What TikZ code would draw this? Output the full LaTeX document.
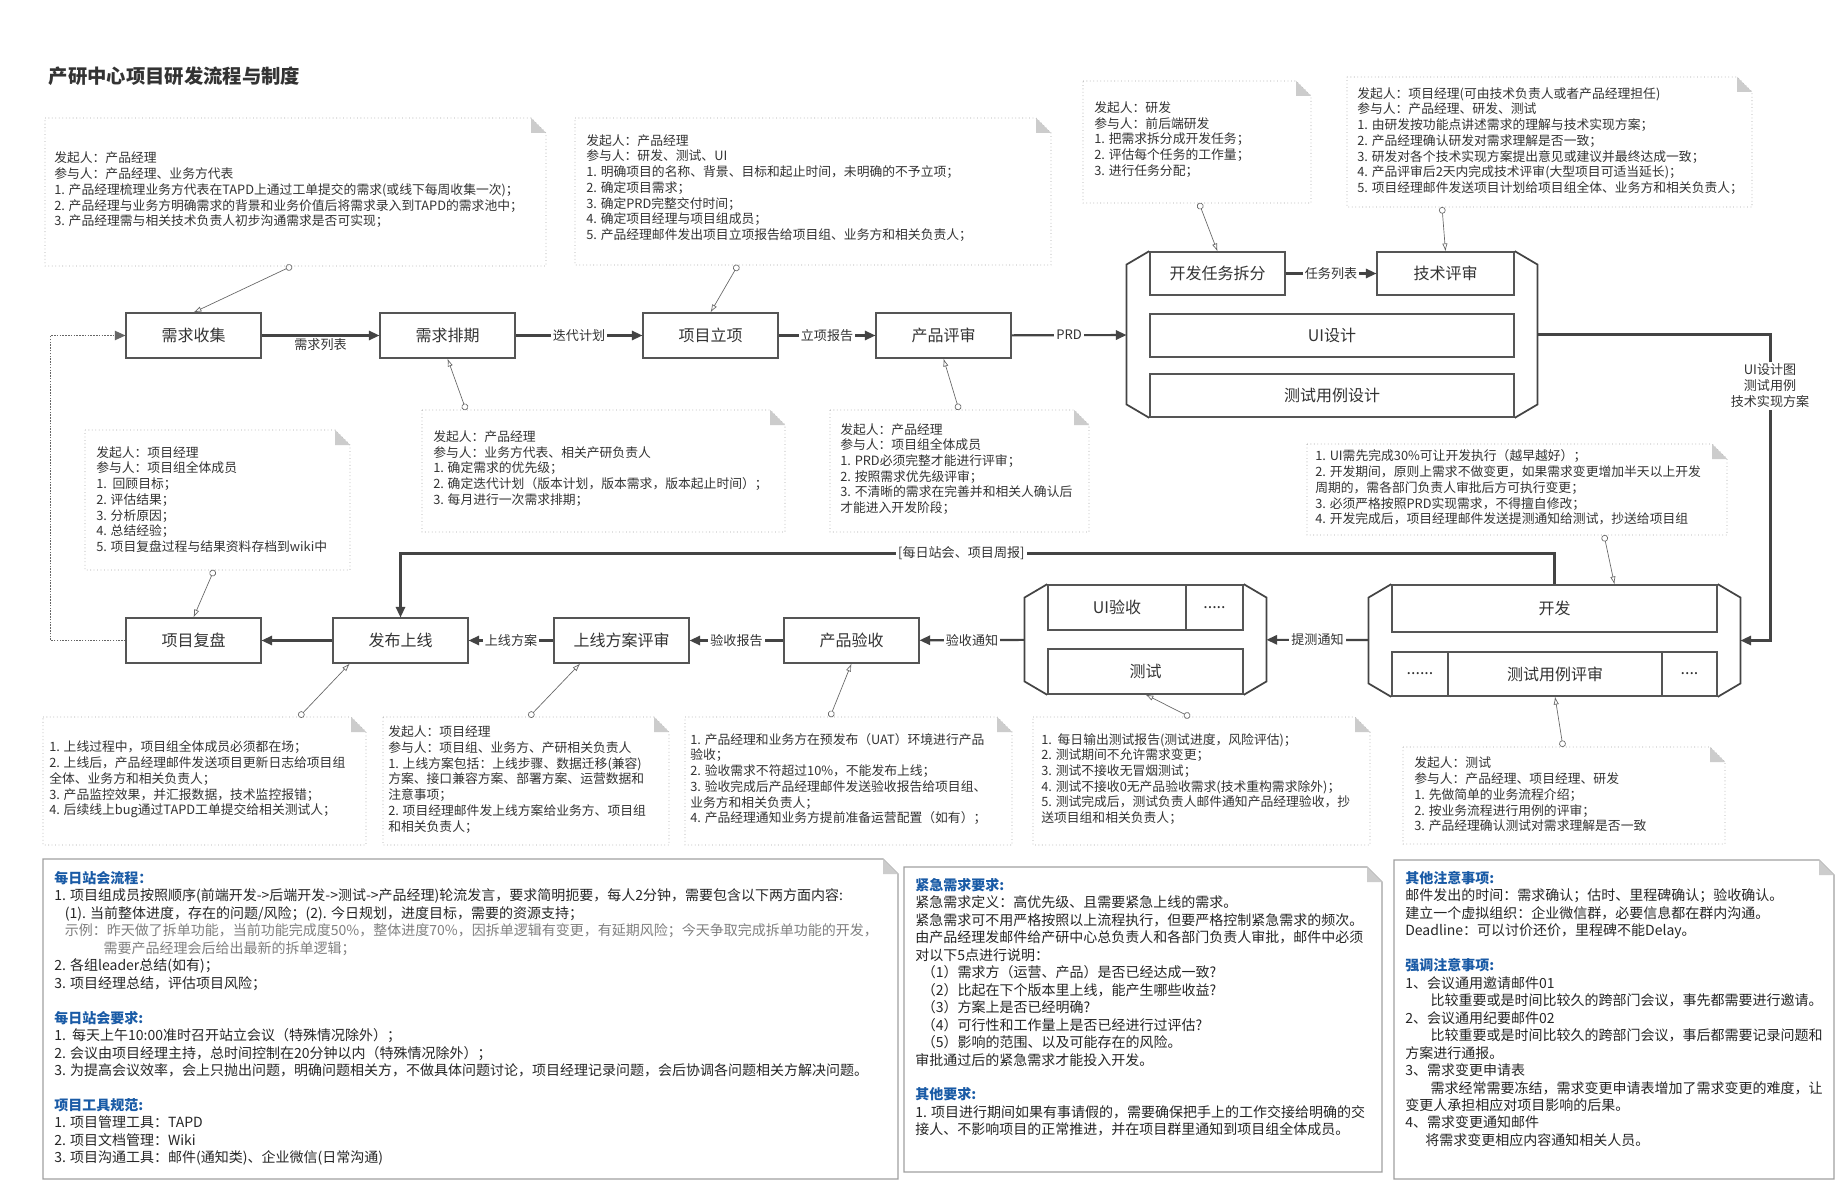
\documentclass[tikz,border=0pt]{standalone}
\usepackage{fontspec}
\setmainfont{Noto Sans CJK SC}
\usepackage{xcolor}
\usetikzlibrary{arrows.meta, positioning, fit, shadows}

\definecolor{ink}{HTML}{333333}
\definecolor{linec}{HTML}{444444}
\definecolor{boxbd}{HTML}{555555}
\definecolor{notec}{HTML}{A8A8A8}
\definecolor{memoc}{HTML}{A0A0A0}
\definecolor{foldc}{HTML}{CCCCCC}
\definecolor{memoblue}{HTML}{1A5BA6}

% outline with a folded corner: style, x1, y1, x2, y2
\newcommand{\foldbox}[5]{%
  \draw[#1] (#2,#3) -- (#4-15,#3) -- (#4,#3+15) -- (#4,#5) -- (#2,#5) -- cycle;
  \fill[foldc] (#4-15,#3) -- (#4,#3+15) -- (#4-15,#3+15) -- cycle;
}
% angled brackets on both sides of a group
\newcommand{\grpbrk}[1]{%
  \draw[brk] ([xshift=17pt]#1.north west) -- ([yshift=-10pt]#1.north west) -- ([yshift=10pt]#1.south west) -- ([xshift=17pt]#1.south west);
  \draw[brk] ([xshift=-17pt]#1.north east) -- ([yshift=-10pt]#1.north east) -- ([yshift=10pt]#1.south east) -- ([xshift=-17pt]#1.south east);
}

\begin{document}
\begin{tikzpicture}[
    x=0.75pt, y=-0.75pt,
    proc/.style={draw=boxbd, fill=white, line width=0.8pt, minimum width=101.25pt, minimum height=33.75pt, inner sep=0pt, text=ink, font=\fontsize{12}{14}\selectfont, drop shadow={shadow xshift=0.8pt, shadow yshift=-0.8pt, opacity=0.35}},
    flow/.style={draw=linec, line width=1.6pt, -{Triangle[length=8pt, width=7pt]}},
    ret/.style={draw=gray!80!black, line width=1.1pt, densely dotted, -{Triangle[length=8pt, width=7pt]}},
    elab/.style={fill=white, inner sep=1.5pt, text=ink, font=\fontsize{9.8}{12}\selectfont},
    callout/.style={draw=gray!80!black, line width=0.5pt, {Circle[open, length=5pt]}-{Latex[open, length=6pt, width=4pt]}},
    notebd/.style={draw=notec, dotted, line width=0.6pt, fill=white},
    memobd/.style={draw=memoc, line width=0.8pt, fill=white},
    notetxt/.style={anchor=west, align=left, inner sep=0pt, text=ink, font=\fontsize{9.6}{11.8}\selectfont},
    memotxt/.style={anchor=north west, align=left, inner sep=0pt, text=black!85, font=\fontsize{10.5}{13.1}\selectfont},
    grp/.style={inner xsep=17pt, inner ysep=0pt},
    brk/.style={draw=linec, line width=1.3pt}
]
\fill[white] (0,0) rectangle (1845,1194);
\useasboundingbox (0,0) rectangle (1845,1194);

\node[anchor=west, text=ink, font=\fontsize{14.5}{16}\selectfont\bfseries] (title) at (44,76.5) {产研中心项目研发流程与制度};

% first row
\node[proc] (xqsj) at (193.5,335.5) {需求收集};
\node[proc] (xqpq) at (447.5,335.5) {需求排期};
\node[proc] (xmlx) at (710.5,335.5) {项目立项};
\node[proc] (cpps) at (943.5,335.5) {产品评审};

\node[proc, minimum height=32.25pt] (rwcf) at (1217.5,273.5) {开发任务拆分};
\node[proc, minimum width=102.75pt, minimum height=32.25pt] (jsps) at (1445.5,273.5) {技术评审};
\node[proc, minimum width=273pt, minimum height=32.25pt] (uisj) at (1332,335.5) {UI设计};
\node[proc, minimum width=273pt, minimum height=32.25pt] (csyl) at (1332,395.5) {测试用例设计};
\node[grp, fit=(rwcf)(jsps)(uisj)(csyl)] (g1) {};
\grpbrk{g1}

% second row
\node[proc] (xmfp) at (193.5,640.5) {项目复盘};
\node[proc] (fbsx) at (400.5,640.5) {发布上线};
\node[proc] (sxps) at (621.5,640.5) {上线方案评审};
\node[proc] (cpys) at (851.5,640.5) {产品验收};

\node[proc, minimum width=103.5pt] (uiys) at (1117,607.5) {UI验收};
\node[proc, minimum width=42.75pt] (dot1) at (1214.5,607.5) {.....};
\node[proc, minimum width=146.25pt] (cs) at (1145.5,671.5) {测试};
\node[grp, fit=(uiys)(dot1)(cs)] (g2) {};
\grpbrk{g2}

\node[proc, minimum width=243.75pt, minimum height=35.25pt] (kf) at (1554.5,608.5) {开发};
\node[proc, minimum width=42pt, minimum height=33pt] (dotl) at (1420,674) {......};
\node[proc, minimum width=160.5pt, minimum height=33pt] (ylps) at (1555,674) {测试用例评审};
\node[proc, minimum width=41.25pt, minimum height=33pt] (dotr) at (1689.5,674) {....};
\node[grp, fit=(kf)(dotl)(ylps)(dotr)] (g3) {};
\grpbrk{g3}

% flow
\draw[flow] (xqsj) -- node[elab, yshift=-7pt] {需求列表} (xqpq);
\draw[flow] (xqpq) -- node[elab] {迭代计划} (xmlx);
\draw[flow] (xmlx) -- node[elab] {立项报告} (cpps);
\draw[flow] (cpps) -- node[elab] {PRD} (g1);
\draw[flow] (rwcf) -- node[elab] {任务列表} (jsps);
\draw[flow] (g1.east) -- ++(233,0) |- (g3.east);
\node[elab, align=center] (sjcw) at (1770,386) {UI设计图\\测试用例\\技术实现方案};

\draw[flow] (g3) -- node[elab] {提测通知} (g2);
\draw[flow] (g2) -- node[elab] {验收通知} (cpys);
\draw[flow] (cpys) -- node[elab] {验收报告} (sxps);
\draw[flow] (sxps) -- node[elab] {上线方案} (fbsx);
\draw[flow] (fbsx) -- (xmfp);
\draw[flow] (kf.north) -- ++(0,-31) -| node[elab, pos=0.257] {[每日站会、项目周报]} (fbsx.north);
\draw[ret] (xmfp.west) -- ++(-75,0) |- (xqsj.west);

% notes
\foldbox{notebd}{45}{118}{546}{266}
\node[notetxt] (n1) at (54,190) {发起人：产品经理\\参与人：产品经理、业务方代表\\1. 产品经理梳理业务方代表在TAPD上通过工单提交的需求(或线下每周收集一次)；\\2. 产品经理与业务方明确需求的背景和业务价值后将需求录入到TAPD的需求池中；\\3. 产品经理需与相关技术负责人初步沟通需求是否可实现；};

\foldbox{notebd}{575}{118}{1051}{265}
\node[notetxt] (n2) at (586,188) {发起人：产品经理\\参与人：研发、测试、UI\\1. 明确项目的名称、背景、目标和起止时间，未明确的不予立项；\\2. 确定项目需求；\\3. 确定PRD完整交付时间；\\4. 确定项目经理与项目组成员；\\5. 产品经理邮件发出项目立项报告给项目组、业务方和相关负责人；};

\foldbox{notebd}{1083}{81}{1311}{203}
\node[notetxt] (n3) at (1094,139.5) {发起人：研发\\参与人：前后端研发\\1. 把需求拆分成开发任务；\\2. 评估每个任务的工作量；\\3. 进行任务分配；};

\foldbox{notebd}{1347}{77}{1752}{207}
\node[notetxt] (n4) at (1357,141) {发起人：项目经理(可由技术负责人或者产品经理担任)\\参与人：产品经理、研发、测试\\1. 由研发按功能点讲述需求的理解与技术实现方案；\\2. 产品经理确认研发对需求理解是否一致；\\3. 研发对各个技术实现方案提出意见或建议并最终达成一致；\\4. 产品评审后2天内完成技术评审(大型项目可适当延长)；\\5. 项目经理邮件发送项目计划给项目组全体、业务方和相关负责人；};

\foldbox{notebd}{422}{410}{785}{532}
\node[notetxt] (n5) at (433,468.5) {发起人：产品经理\\参与人：业务方代表、相关产研负责人\\1. 确定需求的优先级；\\2. 确定迭代计划（版本计划，版本需求，版本起止时间）；\\3. 每月进行一次需求排期；};

\foldbox{notebd}{830}{410}{1089}{532}
\node[notetxt] (n6) at (840,469) {发起人：产品经理\\参与人：项目组全体成员\\1. PRD必须完整才能进行评审；\\2. 按照需求优先级评审；\\3. 不清晰的需求在完善并和相关人确认后\\才能进入开发阶段；};

\foldbox{notebd}{85}{430}{350}{570}
\node[notetxt] (n7) at (96,499.5) {发起人：项目经理\\参与人：项目组全体成员\\1.\ \ 回顾目标；\\2. 评估结果；\\3. 分析原因；\\4. 总结经验；\\5. 项目复盘过程与结果资料存档到wiki中};

\foldbox{notebd}{1307}{444}{1727}{535}
\node[notetxt] (n8) at (1315,487.5) {1. UI需先完成30\%可让开发执行（越早越好）；\\2. 开发期间，原则上需求不做变更，如果需求变更增加半天以上开发\\周期的，需各部门负责人审批后方可执行变更；\\3. 必须严格按照PRD实现需求，不得擅自修改；\\4. 开发完成后，项目经理邮件发送提测通知给测试，抄送给项目组};

\foldbox{notebd}{43}{717}{366}{845}
\node[notetxt] (n9) at (49,779.5) {1. 上线过程中，项目组全体成员必须都在场；\\2. 上线后，产品经理邮件发送项目更新日志给项目组\\全体、业务方和相关负责人；\\3. 产品监控效果，并汇报数据，技术监控报错；\\4. 后续线上bug通过TAPD工单提交给相关测试人；};

\foldbox{notebd}{383}{717}{669}{845}
\node[notetxt] (n10) at (388,779.5) {发起人：项目经理\\参与人：项目组、业务方、产研相关负责人\\1. 上线方案包括：上线步骤、数据迁移(兼容)\\方案、接口兼容方案、部署方案、运营数据和\\注意事项；\\2. 项目经理邮件发上线方案给业务方、项目组\\和相关负责人；};

\foldbox{notebd}{685}{717}{1012}{845}
\node[notetxt] (n11) at (690,779) {1. 产品经理和业务方在预发布（UAT）环境进行产品\\验收；\\2. 验收需求不符超过10\%，不能发布上线；\\3. 验收完成后产品经理邮件发送验收报告给项目组、\\业务方和相关负责人；\\4. 产品经理通知业务方提前准备运营配置（如有）；};

\foldbox{notebd}{1033}{717}{1370}{845}
\node[notetxt] (n12) at (1041,779) {1.\ \ 每日输出测试报告(测试进度，风险评估)；\\2. 测试期间不允许需求变更；\\3. 测试不接收无冒烟测试；\\4. 测试不接收0无产品验收需求(技术重构需求除外)；\\5. 测试完成后，测试负责人邮件通知产品经理验收，抄\\送项目组和相关负责人；};

\foldbox{notebd}{1403}{747}{1725}{844}
\node[notetxt] (n13) at (1414,794.5) {发起人：测试\\参与人：产品经理、项目经理、研发\\1. 先做简单的业务流程介绍；\\2. 按业务流程进行用例的评审；\\3. 产品经理确认测试对需求理解是否一致};

% note links
\coordinate (c1) at (292,266);
\coordinate (c2) at (738,265);
\coordinate (c3) at (1199,203);
\coordinate (c4) at (1442,207);
\coordinate (c5) at (466,410);
\coordinate (c6) at (959,410);
\coordinate (c7) at (214,570);
\coordinate (c8) at (1604,535);
\coordinate (c9) at (299,717);
\coordinate (c10) at (529,717);
\coordinate (c11) at (830,717);
\coordinate (c12) at (1190,717);
\coordinate (c13) at (1563,747);
\draw[callout] (c1) -- (xqsj.north);
\draw[callout] (c2) -- (xmlx.north);
\draw[callout] (c3) -- (rwcf.north);
\draw[callout] (c4) -- (jsps.north);
\draw[callout] (c5) -- (xqpq.south);
\draw[callout] (c6) -- (cpps.south);
\draw[callout] (c7) -- (xmfp.north);
\draw[callout] (c8) -- ([xshift=45pt]kf.north);
\draw[callout] (c9) -- ([xshift=-38pt]fbsx.south);
\draw[callout] (c10) -- ([xshift=-31pt]sxps.south);
\draw[callout] (c11) -- (cpys.south);
\draw[callout] (c12) -- (cs.south);
\draw[callout] (c13) -- (ylps.south);

% rules at the bottom
\foldbox{memobd}{43}{859}{898}{1179}
\node[memotxt] (m1) at (54,871) {{\color{memoblue}\bfseries 每日站会流程：}\\
1. 项目组成员按照顺序(前端开发->后端开发->测试->产品经理)轮流发言，要求简明扼要，每人2分钟，需要包含以下两方面内容:\\
\hspace*{8pt}(1). 当前整体进度，存在的问题/风险；(2). 今日规划，进度目标，需要的资源支持；\\
\hspace*{8pt}{\color{gray}示例：昨天做了拆单功能，当前功能完成度50\%，整体进度70\%，因拆单逻辑有变更，有延期风险；今天争取完成拆单功能的开发，}\\
\hspace*{37pt}{\color{gray}需要产品经理会后给出最新的拆单逻辑；}\\
2. 各组leader总结(如有)；\\
3. 项目经理总结，评估项目风险；\\[13.1pt]
{\color{memoblue}\bfseries 每日站会要求:}\\
1.\ \ 每天上午10:00准时召开站立会议（特殊情况除外）；\\
2. 会议由项目经理主持，总时间控制在20分钟以内（特殊情况除外）；\\
3. 为提高会议效率，会上只抛出问题，明确问题相关方，不做具体问题讨论，项目经理记录问题，会后协调各问题相关方解决问题。\\[13.1pt]
{\color{memoblue}\bfseries 项目工具规范:}\\
1. 项目管理工具：TAPD\\
2. 项目文档管理：Wiki\\
3. 项目沟通工具：邮件(通知类)、企业微信(日常沟通)};

\foldbox{memobd}{904}{867}{1382}{1172}
\node[memotxt] (m2) at (915,878) {{\color{memoblue}\bfseries 紧急需求要求:}\\
紧急需求定义：高优先级、且需要紧急上线的需求。\\
紧急需求可不用严格按照以上流程执行，但要严格控制紧急需求的频次。\\
由产品经理发邮件给产研中心总负责人和各部门负责人审批，邮件中必须\\
对以下5点进行说明：\\
\hspace*{5pt}（1）需求方（运营、产品）是否已经达成一致?\\
\hspace*{5pt}（2）比起在下个版本里上线，能产生哪些收益?\\
\hspace*{5pt}（3）方案上是否已经明确?\\
\hspace*{5pt}（4）可行性和工作量上是否已经进行过评估?\\
\hspace*{5pt}（5）影响的范围、以及可能存在的风险。\\
审批通过后的紧急需求才能投入开发。\\[13.1pt]
{\color{memoblue}\bfseries 其他要求:}\\
1. 项目进行期间如果有事请假的，需要确保把手上的工作交接给明确的交\\
接人、不影响项目的正常推进，并在项目群里通知到项目组全体成员。};

\foldbox{memobd}{1394}{860}{1834}{1179}
\node[memotxt] (m3) at (1405,871) {{\color{memoblue}\bfseries 其他注意事项:}\\
邮件发出的时间：需求确认；估时、里程碑确认；验收确认。\\
建立一个虚拟组织：企业微信群，必要信息都在群内沟通。\\
Deadline：可以讨价还价，里程碑不能Delay。\\[13.1pt]
{\color{memoblue}\bfseries 强调注意事项:}\\
1、会议通用邀请邮件01\\
\hspace*{19pt}比较重要或是时间比较久的跨部门会议，事先都需要进行邀请。\\
2、会议通用纪要邮件02\\
\hspace*{19pt}比较重要或是时间比较久的跨部门会议，事后都需要记录问题和\\
方案进行通报。\\
3、需求变更申请表\\
\hspace*{19pt}需求经常需要冻结，需求变更申请表增加了需求变更的难度，让\\
变更人承担相应对项目影响的后果。\\
4、需求变更通知邮件\\
\hspace*{15pt}将需求变更相应内容通知相关人员。};

\end{tikzpicture}
\end{document}
